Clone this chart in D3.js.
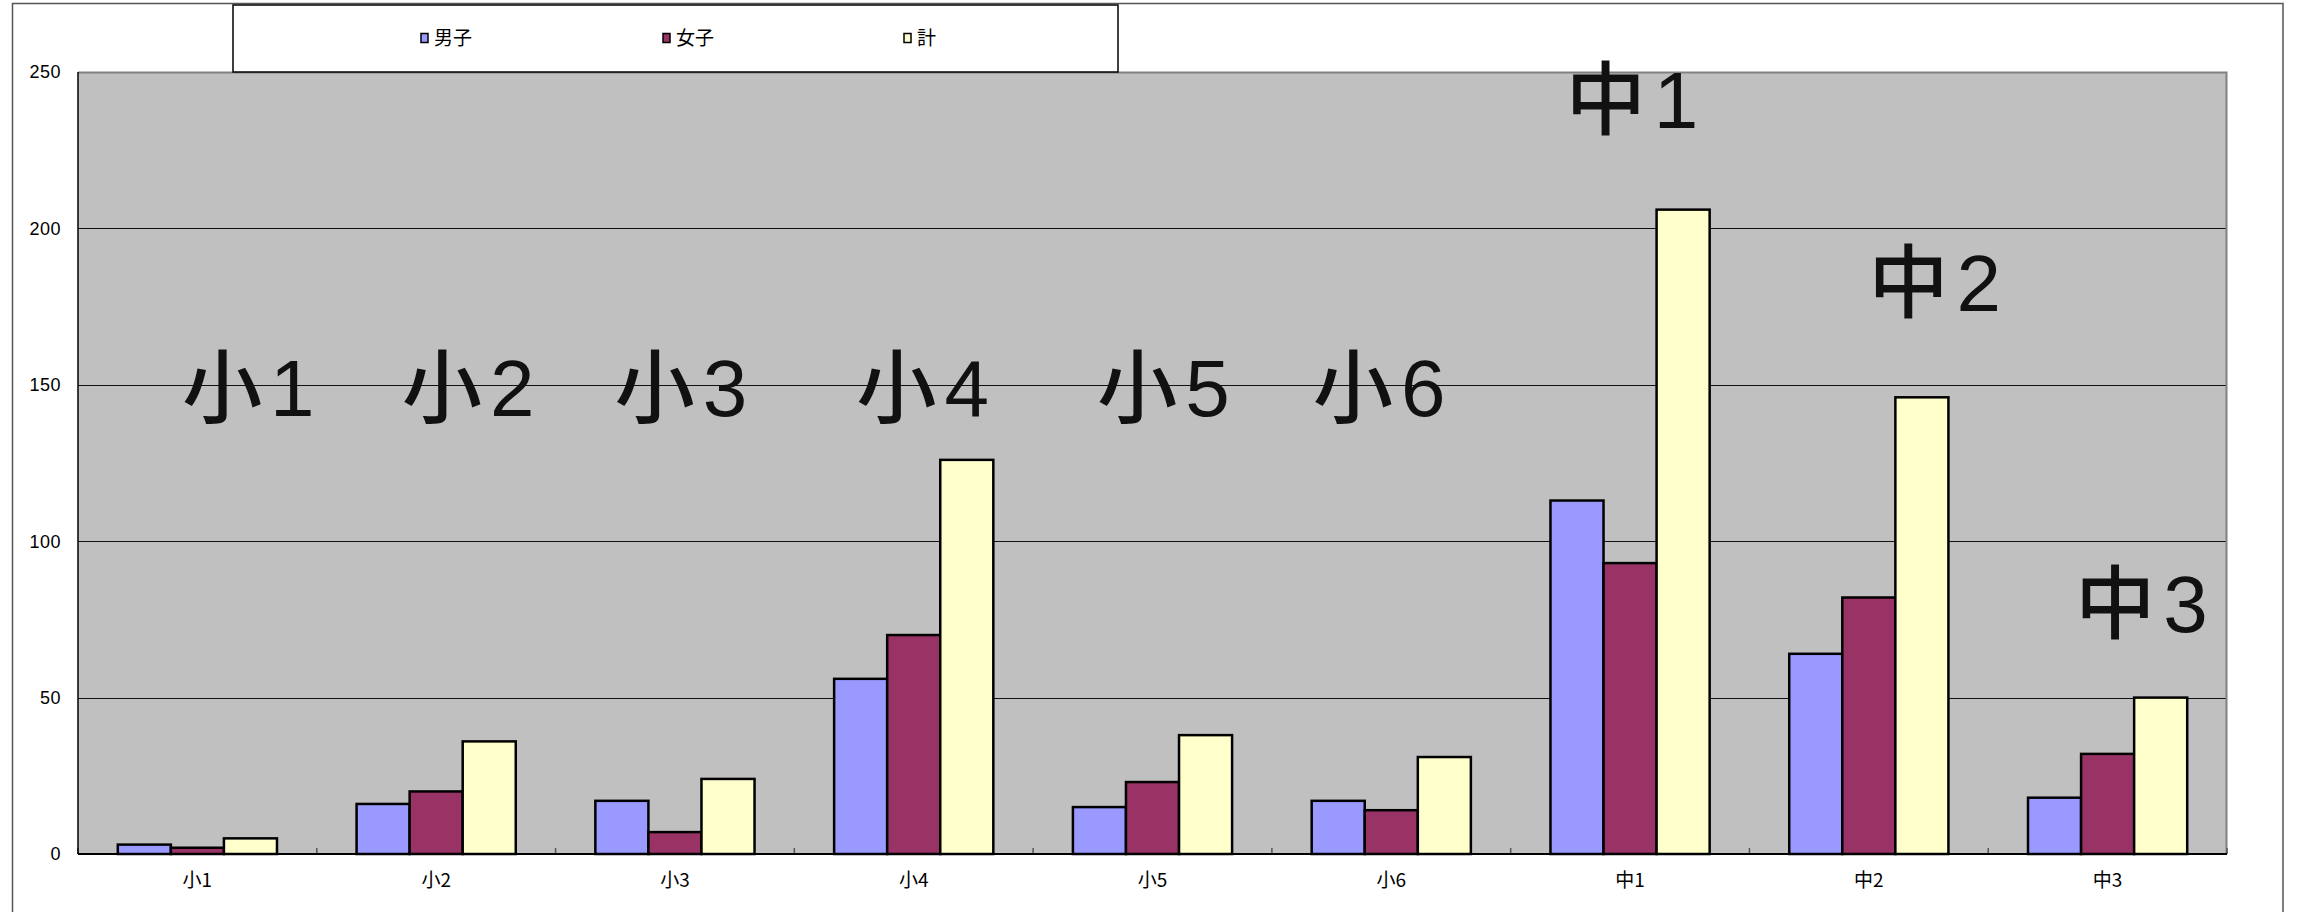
<!DOCTYPE html>
<html>
<head>
<meta charset="utf-8">
<script src="https://cdn.jsdelivr.net/npm/d3@7"></script>
<style>
  html, body { margin: 0; padding: 0; background: #fff; }
  svg { display: block; }
</style>
</head>
<body>
<script>
// 学年別 人数（男子・女子・計）
const categories = ["小1", "小2", "小3", "小4", "小5", "小6", "中1", "中2", "中3"];
const seriesNames = ["男子", "女子", "計"];
const boys  = [3, 16, 17, 56, 15, 17, 113, 64, 18];
const girls = [2, 20, 7, 70, 23, 14, 93, 82, 32];
const total = [5, 36, 24, 126, 38, 31, 206, 146, 50];
const yTicks = [0, 50, 100, 150, 200, 250];
const bigLabels = ["小1", "小2", "小3", "小4", "小5", "小6", "中1", "中2", "中3"];

const colors = ["#9999ff", "#993366", "#ffffcc"];
const seriesValues = [boys, girls, total];

const W = 2300, H = 912;
const plot = { left: 78, right: 2227, top: 72, bottom: 854 };

const svg = d3.select("body").append("svg")
  .attr("width", W).attr("height", H);

// outer chart frame
svg.append("rect")
  .attr("x", 12.5).attr("y", 3.5)
  .attr("width", 2283 - 12.5).attr("height", H + 10)
  .attr("fill", "#fff").attr("stroke", "#555").attr("stroke-width", 1.5);

const x = d3.scaleBand()
  .domain(categories)
  .range([plot.left, plot.right])
  .paddingInner(1.5 / 4.5)
  .paddingOuter(0.75 / 4.5);

const xs = d3.scaleBand()
  .domain(seriesNames)
  .range([0, x.bandwidth()]);

const y = d3.scaleLinear()
  .domain([0, 250])
  .range([plot.bottom, plot.top]);

// plot area background
svg.append("rect")
  .attr("x", plot.left).attr("y", plot.top)
  .attr("width", plot.right - plot.left).attr("height", plot.bottom - plot.top)
  .attr("fill", "#c0c0c0");

// horizontal gridlines
svg.append("g")
  .selectAll("line")
  .data(yTicks.filter(d => d > 0 && d < 250))
  .join("line")
  .attr("x1", plot.left).attr("x2", plot.right)
  .attr("y1", d => Math.round(y(d)) + 0.5).attr("y2", d => Math.round(y(d)) + 0.5)
  .attr("stroke", "#111").attr("stroke-width", 1);

// plot area top / right edges
svg.append("path")
  .attr("d", `M${plot.left},${plot.top + 0.5}H${plot.right - 0.5}V${plot.bottom}`)
  .attr("fill", "none").attr("stroke", "#808080").attr("stroke-width", 2);

// large annotation labels over the groups
const annotPos = [
  { dx: 55, v: 140 }, { dx: 36, v: 140 }, { dx: 10, v: 140 },
  { dx: 13, v: 140 }, { dx: 15, v: 140 }, { dx: -8, v: 140 },
  { dx: 6, v: 232 }, { dx: 70, v: 173.5 }, { dx: 38, v: 71 }
];
svg.append("g")
  .selectAll("text")
  .data(bigLabels)
  .join("text")
  .attr("x", (d, i) => x(categories[i]) + x.bandwidth() / 2 + annotPos[i].dx)
  .attr("y", (d, i) => y(annotPos[i].v))
  .attr("text-anchor", "middle")
  .attr("font-family", "'Liberation Sans', 'Noto Sans CJK JP', sans-serif")
  .attr("font-size", 80)
  .attr("font-weight", 500)
  .attr("fill", "#111")
  .attr("letter-spacing", 8)
  .text(d => d);

// bars
const groups = svg.append("g")
  .selectAll("g")
  .data(categories)
  .join("g")
  .attr("transform", d => `translate(${x(d)},0)`);

groups.selectAll("rect")
  .data((d, i) => seriesNames.map((s, k) => ({ s, k, v: seriesValues[k][i] })))
  .join("rect")
  .attr("x", d => xs(d.s))
  .attr("width", xs.bandwidth())
  .attr("y", d => y(d.v))
  .attr("height", d => y(0) - y(d.v))
  .attr("fill", d => colors[d.k])
  .attr("stroke", "#000")
  .attr("stroke-width", 2.5);

// x axis line with inner ticks at group boundaries
const step = x.step();
const boundaries = d3.range(categories.length + 1).map(i => plot.left + i * step);
svg.append("g")
  .selectAll("line")
  .data(boundaries)
  .join("line")
  .attr("x1", d => d).attr("x2", d => d)
  .attr("y1", plot.bottom).attr("y2", plot.bottom - 6)
  .attr("stroke", "#555").attr("stroke-width", 1.5);

svg.append("line")
  .attr("x1", plot.left).attr("x2", plot.right)
  .attr("y1", plot.bottom).attr("y2", plot.bottom)
  .attr("stroke", "#000").attr("stroke-width", 2);

svg.append("line")
  .attr("x1", plot.left).attr("x2", plot.left)
  .attr("y1", plot.top).attr("y2", plot.bottom)
  .attr("stroke", "#000").attr("stroke-width", 1.5);

// x category labels
svg.append("g")
  .selectAll("text")
  .data(categories)
  .join("text")
  .attr("x", d => x(d) + x.bandwidth() / 2)
  .attr("y", 887)
  .attr("text-anchor", "middle")
  .attr("font-family", "'Noto Sans CJK JP', sans-serif")
  .attr("font-size", 19)
  .attr("fill", "#000")
  .text(d => d);

// y tick labels
svg.append("g")
  .selectAll("text")
  .data(yTicks)
  .join("text")
  .attr("x", 61)
  .attr("y", d => y(d))
  .attr("dy", "0.36em")
  .attr("text-anchor", "end")
  .attr("font-family", "'Liberation Sans', Arial, sans-serif")
  .attr("font-size", 18)
  .attr("letter-spacing", 0.5)
  .attr("fill", "#000")
  .text(d => d);

// legend
const legend = svg.append("g");
legend.append("rect")
  .attr("x", 233).attr("y", 5)
  .attr("width", 1118 - 233).attr("height", 72 - 5)
  .attr("fill", "#fff").attr("stroke", "#000").attr("stroke-width", 1.5);

const legendX = [421, 663, 904];
const items = legend.selectAll("g.item")
  .data(seriesNames)
  .join("g")
  .attr("class", "item")
  .attr("transform", (d, i) => `translate(${legendX[i]},38)`);

items.append("rect")
  .attr("x", 0).attr("y", -4.5)
  .attr("width", 7).attr("height", 9)
  .attr("fill", (d, i) => colors[i])
  .attr("stroke", "#000").attr("stroke-width", 1.5);

items.append("text")
  .attr("x", 13).attr("y", 0)
  .attr("dy", "0.36em")
  .attr("font-family", "'Noto Sans CJK JP', sans-serif")
  .attr("font-size", 19)
  .attr("fill", "#000")
  .text(d => d);
</script>
</body>
</html>
